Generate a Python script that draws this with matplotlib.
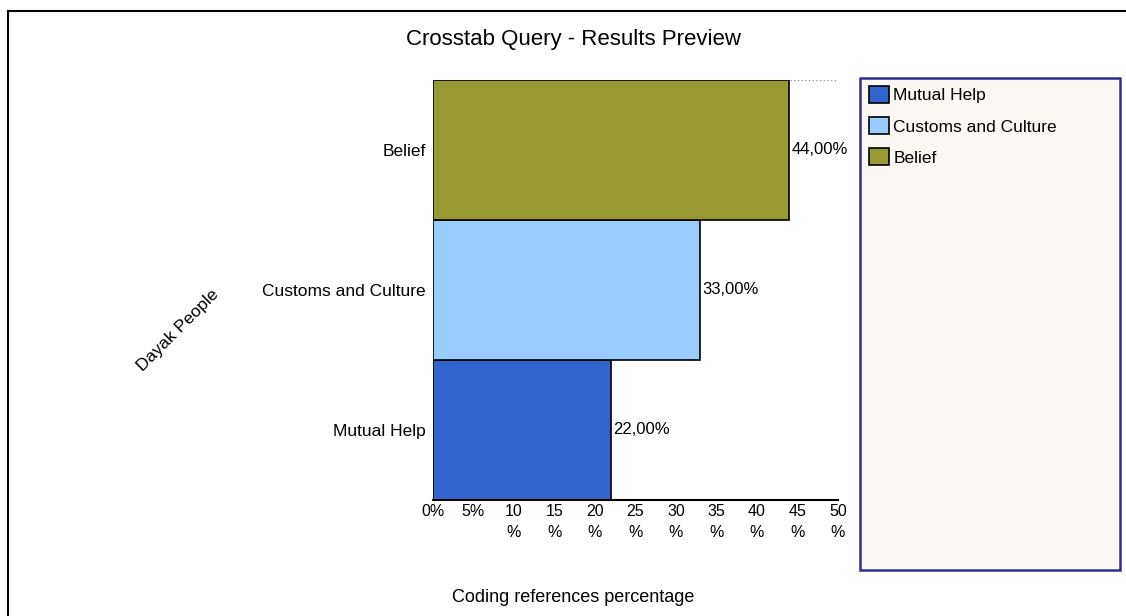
import matplotlib.pyplot as plt
from matplotlib.patches import Patch, Rectangle
from matplotlib.lines import Line2D

plt.rcParams['font.family'] = ['Liberation Sans', 'DejaVu Sans']

# data
categories = ['Mutual Help', 'Customs and Culture', 'Belief']
values = [22.0, 33.0, 44.0]
colors = ['#3366CC', '#99CCFF', '#999933']
xticks = [0, 5, 10, 15, 20, 25, 30, 35, 40, 45, 50]
xtick_labels = ['0%', '5%', '10\n%', '15\n%', '20\n%', '25\n%', '30\n%',
                '35\n%', '40\n%', '45\n%', '50\n%']

W, H = 1126, 616
fig = plt.figure(figsize=(W / 100, H / 100), dpi=100)

# plot area
ax = fig.add_axes([433 / W, 1 - 500 / H, (838 - 433) / W, (500 - 80) / H])
ypos = list(range(len(categories)))
ax.barh(ypos, values, height=1.0, color=colors, edgecolor='black',
        linewidth=1.2, zorder=2)
ax.axhline(len(categories) - 0.5, color='#999999', ls=':', lw=1, zorder=1)

ax.set_xlim(0, 50)
ax.set_ylim(-0.5, len(categories) - 0.5)
ax.set_xticks(xticks)
ax.set_xticklabels(xtick_labels, fontsize=11.5, linespacing=1.45)
ax.set_yticks(ypos)
ax.set_yticklabels(categories, fontsize=12.5)
ax.tick_params(axis='both', length=0, pad=5)
ax.tick_params(axis='x', pad=3)

for s in ['top', 'right', 'left']:
    ax.spines[s].set_visible(False)
ax.spines['bottom'].set_linewidth(1.5)

# value labels
for y, v in zip(ypos, values):
    ax.text(v + 0.25, y, f'{v:.2f}%'.replace('.', ','), va='center',
            ha='left', fontsize=12)

# titles
fig.text(573 / W, 1 - 40 / H, 'Crosstab Query - Results Preview',
         ha='center', va='center', fontsize=16)
fig.text(573 / W, 1 - 598 / H, 'Coding references percentage',
         ha='center', va='center', fontsize=13)
fig.text(178 / W, 1 - 330 / H, 'Dayak People', rotation=45,
         ha='center', va='center', fontsize=12.5)

# legend box
fig.add_artist(Rectangle((860 / W, 1 - 570 / H), (1120 - 860) / W,
                         (570 - 78) / H, transform=fig.transFigure,
                         facecolor='#FCF9F5', edgecolor='#2E2E8F', lw=1.8))
handles = [Patch(facecolor=c, edgecolor='black', lw=1.2) for c in colors]
fig.legend(handles, categories, loc='upper left',
           bbox_to_anchor=(869 / W, 1 - 86 / H), frameon=False, fontsize=12.5,
           handlelength=1.15, handleheight=1.15, handletextpad=0.25,
           labelspacing=0.78, borderpad=0, borderaxespad=0)

# outer frame lines
fig.add_artist(Line2D([8 / W, 1], [1 - 11 / H, 1 - 11 / H], color='black',
                      lw=1.5, transform=fig.transFigure))
fig.add_artist(Line2D([8 / W, 8 / W], [0, 1 - 11 / H], color='black',
                      lw=1.5, transform=fig.transFigure))

fig.savefig('out.png', dpi=100)
